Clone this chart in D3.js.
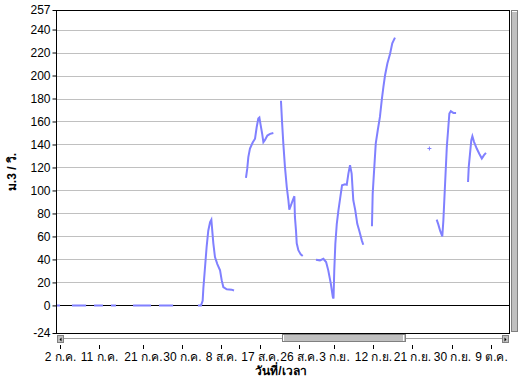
<!DOCTYPE html>
<html>
<head>
<meta charset="utf-8">
<script src="https://cdn.jsdelivr.net/npm/d3@7"></script>
<style>
  body { margin: 0; background: #fff; }
  text { font-family: "Liberation Sans", Arial, sans-serif; }
</style>
</head>
<body>
<div id="container"></div>
<script>
// flow readings, null = no data
const times = [
  "2012-07-01 02:00", "2012-07-02 00:00", null,
  "2012-07-04 18:00", "2012-07-08 00:00", null,
  "2012-07-09 20:00", "2012-07-11 21:00", null,
  "2012-07-13 17:00", "2012-07-14 21:00", null,
  "2012-07-18 19:00", "2012-07-22 22:00", null,
  "2012-07-24 18:00", "2012-07-28 00:00", null,
  "2012-08-02 17:00", "2012-08-03 10:00", "2012-08-03 19:00", "2012-08-03 23:00", "2012-08-04 08:00",
  "2012-08-04 17:00", "2012-08-05 02:00", "2012-08-05 12:00", "2012-08-05 19:00", "2012-08-06 00:00",
  "2012-08-06 06:00", "2012-08-06 15:00", "2012-08-07 04:00", "2012-08-07 19:00", "2012-08-08 04:00",
  "2012-08-08 13:00", "2012-08-09 08:00", "2012-08-10 11:00", "2012-08-11 00:00", null,
  "2012-08-13 18:00", "2012-08-14 01:00", "2012-08-14 07:00", "2012-08-14 16:00", "2012-08-15 07:00",
  "2012-08-15 20:00", "2012-08-16 05:00", "2012-08-16 14:00", "2012-08-16 20:00", "2012-08-17 03:00",
  "2012-08-17 11:00", "2012-08-17 18:00", "2012-08-18 03:00", "2012-08-18 16:00", "2012-08-19 07:00",
  "2012-08-20 01:00", null,
  "2012-08-21 19:00", "2012-08-22 01:00", "2012-08-22 08:00", "2012-08-22 17:00", "2012-08-23 03:00",
  "2012-08-23 12:00", "2012-08-23 17:00", "2012-08-24 02:00", "2012-08-24 12:00", "2012-08-24 21:00",
  "2012-08-25 00:00", "2012-08-25 06:00", "2012-08-25 10:00", "2012-08-25 19:00", "2012-08-26 08:00",
  "2012-08-26 19:00", null,
  "2012-08-29 20:00", "2012-08-30 18:00", "2012-08-31 13:00", "2012-09-01 04:00", "2012-09-01 16:00",
  "2012-09-02 06:00", "2012-09-02 17:00", "2012-09-02 21:00", "2012-09-03 01:00", "2012-09-03 07:00",
  "2012-09-03 15:00", "2012-09-04 00:00", "2012-09-04 13:00", "2012-09-04 20:00", "2012-09-05 12:00",
  "2012-09-05 22:00", "2012-09-06 07:00", "2012-09-06 16:00", "2012-09-07 01:00", "2012-09-07 10:00",
  "2012-09-07 21:00", "2012-09-08 08:00", "2012-09-08 19:00", "2012-09-09 09:00", "2012-09-09 17:00", null,
  "2012-09-11 17:00", "2012-09-11 21:00", "2012-09-12 06:00", "2012-09-12 14:00", "2012-09-13 01:00",
  "2012-09-13 13:00", "2012-09-13 23:00", "2012-09-14 08:00", "2012-09-14 17:00", "2012-09-15 06:00",
  "2012-09-15 21:00", "2012-09-16 09:00", "2012-09-17 00:00", null,
  "2012-09-24 22:00", null,
  "2012-09-26 14:00", "2012-09-26 23:00", "2012-09-27 09:00", "2012-09-27 21:00", "2012-09-28 03:00",
  "2012-09-28 12:00", "2012-09-28 22:00", "2012-09-29 05:00", "2012-09-29 12:00", "2012-09-29 20:00",
  "2012-09-30 10:00", "2012-10-01 01:00", null,
  "2012-10-03 19:00", "2012-10-03 23:00", "2012-10-04 06:00", "2012-10-04 13:00", "2012-10-04 19:00",
  "2012-10-05 04:00", "2012-10-05 19:00", "2012-10-06 09:00", "2012-10-06 23:00", "2012-10-07 11:00",
  "2012-10-07 22:00"
];
const flow = [
  0, 0, null,
  0, 0, null,
  0, 0, null,
  0, 0, null,
  0, 0, null,
  0, 0, null,
  0, 0, 4, 15, 33,
  51, 65, 72.5, 74.6, 65,
  54, 42, 36, 30.5, 22,
  16, 14, 13.7, 13, null,
  111, 119, 129, 136.5, 141.7,
  145, 155, 162.6, 163.5, 156.8,
  149.6, 142, 144, 147.8, 149.2,
  150, null,
  178, 159.7, 141, 120.5, 103,
  91.5, 83.4, 87, 91.5, 95,
  77, 65, 54, 48, 44.4,
  43, null,
  39.8, 39.2, 40.6, 37.7, 30.5,
  19, 7.3, 6, 30, 53.7,
  71, 82.7, 97, 104.5, 105.4,
  105, 114.7, 122, 114.7, 91.5,
  82.7, 71, 65, 56.6, 52.8, null,
  68.8, 97, 120.5, 141, 152.4,
  164, 178.6, 190, 200, 210.5,
  219, 228, 233, null,
  136.5, null,
  74.6, 70.5, 65, 60, 74,
  104.5, 138, 152.4, 167, 169,
  167.5, 167.5, null,
  107.4, 120.5, 132, 143.7, 147.2,
  142.3, 136.5, 132, 127.8, 130.7,
  132.7
];

const yTicks = [-24, 0, 20, 40, 60, 80, 100, 120, 140, 160, 180, 200, 220, 240, 257];
const xTickDates = ["2012-07-02", "2012-07-11", "2012-07-21", "2012-07-30", "2012-08-08", "2012-08-17",
  "2012-08-26", "2012-09-03", "2012-09-12", "2012-09-21", "2012-09-30", "2012-10-09"];
const xTickLabels = ["2 ก.ค.", "11 ก.ค.", "21 ก.ค.", "30 ก.ค.", "8 ส.ค.", "17 ส.ค.",
  "26 ส.ค.", "3 ก.ย.", "12 ก.ย.", "21 ก.ย.", "30 ก.ย.", "9 ต.ค."];

const parseTime = d3.timeParse("%Y-%m-%d %H:%M");
const parseDay = d3.timeParse("%Y-%m-%d");

const data = times.map((t, i) => ({ t: t ? parseTime(t) : null, v: flow[i] }));

const W = 523, H = 378;
const plotL = 56, plotR = 509, plotT = 10, plotB = 333;

const svg = d3.select("#container").append("svg")
  .attr("width", W)
  .attr("height", H);

const x = d3.scaleTime()
  .domain([new Date(2012, 6, 1, 2), new Date(2012, 9, 13, 5)])
  .range([plotL, plotR]);

const y = d3.scaleLinear()
  .domain([-24, 257])
  .range([plotB, plotT]);

// grid lines
svg.append("g")
  .selectAll("line")
  .data(yTicks.filter(d => d !== -24 && d !== 257))
  .join("line")
  .attr("x1", plotL)
  .attr("x2", plotR)
  .attr("y1", d => Math.round(y(d)) + 0.5)
  .attr("y2", d => Math.round(y(d)) + 0.5)
  .attr("stroke", d => d === 0 ? "#000" : "#c0c0c0")
  .attr("stroke-width", 1);

// y axis
const yAxis = svg.append("g")
  .attr("transform", `translate(${plotL + 0.5},0)`)
  .call(d3.axisLeft(y).tickValues(yTicks).tickSize(4).tickPadding(2).tickFormat(d => String(d)));
yAxis.select(".domain").remove();
yAxis.selectAll(".tick line").attr("stroke", "#000");
yAxis.selectAll(".tick text")
  .attr("font-size", "12px")
  .attr("font-family", "Liberation Sans, Arial, sans-serif")
  .attr("fill", "#000");

// series line
const line = d3.line()
  .defined(d => d.v != null)
  .x(d => x(d.t))
  .y(d => y(d.v));

svg.append("path")
  .datum(data)
  .attr("fill", "none")
  .attr("stroke", "#8080ff")
  .attr("stroke-width", 2)
  .attr("d", line);

// isolated readings drawn as small crosses
const lone = data.filter((d, i) => d.v != null &&
  (i === 0 || data[i - 1].v == null) && (i === data.length - 1 || data[i + 1].v == null));
svg.append("g")
  .selectAll("path")
  .data(lone)
  .join("path")
  .attr("d", d => `M${x(d.t) - 2},${y(d.v)}h4M${x(d.t)},${y(d.v) - 2}v4`)
  .attr("stroke", "#8080ff")
  .attr("stroke-width", 1);

// plot frame
svg.append("rect")
  .attr("x", plotL + 0.5)
  .attr("y", plotT + 0.5)
  .attr("width", plotR - plotL)
  .attr("height", plotB - plotT)
  .attr("fill", "none")
  .attr("stroke", "#000");

// vertical scroll bar
svg.append("rect")
  .attr("x", 511.5).attr("y", plotT + 0.5)
  .attr("width", 6).attr("height", plotB - plotT - 2)
  .attr("fill", "#c0c0c0").attr("stroke", "#808080");
svg.append("line")
  .attr("x1", 512).attr("x2", 517).attr("y1", plotT + 1.5).attr("y2", plotT + 1.5)
  .attr("stroke", "#fff");

// horizontal scroll bar
const sb = svg.append("g");
sb.append("line")
  .attr("x1", plotL + 6).attr("x2", plotR - 6)
  .attr("y1", 338.5).attr("y2", 338.5)
  .attr("stroke", "#a0a0a0");
[[plotL + 1, "M4,2L2,4L4,6Z"], [plotR - 7, "M2,2L4,4L2,6Z"]].forEach(([bx, arrow]) => {
  sb.append("rect")
    .attr("x", bx + 0.5).attr("y", 335.5)
    .attr("width", 6).attr("height", 7)
    .attr("fill", "#c0c0c0").attr("stroke", "#808080");
  sb.append("path")
    .attr("transform", `translate(${bx + 0.5},335.5)`)
    .attr("d", arrow)
    .attr("fill", "#000");
});
sb.append("rect")
  .attr("x", 282.5).attr("y", 334.5)
  .attr("width", 123).attr("height", 7)
  .attr("fill", "#c0c0c0").attr("stroke", "#808080");
sb.append("line")
  .attr("x1", 283.5).attr("x2", 283.5).attr("y1", 335).attr("y2", 341)
  .attr("stroke", "#fff");
sb.append("line")
  .attr("x1", 403.5).attr("x2", 403.5).attr("y1", 335).attr("y2", 341)
  .attr("stroke", "#fff");

// x ticks and labels
const xg = svg.append("g");
xTickDates.forEach((ds, i) => {
  const px = Math.round(x(parseDay(ds))) + 0.5;
  xg.append("line")
    .attr("x1", px).attr("x2", px)
    .attr("y1", 345).attr("y2", 349)
    .attr("stroke", "#000");
  xg.append("text")
    .attr("x", px)
    .attr("y", 361)
    .attr("text-anchor", "middle")
    .attr("font-size", "12px")
    .attr("fill", "#000")
    .text(xTickLabels[i]);
});

// axis titles
svg.append("text")
  .attr("x", 281)
  .attr("y", 375)
  .attr("text-anchor", "middle")
  .attr("font-size", "12px")
  .attr("font-weight", "bold")
  .attr("fill", "#000")
  .text("วันที่/เวลา");

svg.append("text")
  .attr("transform", `translate(16,172) rotate(-90)`)
  .attr("text-anchor", "middle")
  .attr("font-size", "12px")
  .attr("font-weight", "bold")
  .attr("fill", "#000")
  .text("ม.3 / วิ.");
</script>
</body>
</html>
